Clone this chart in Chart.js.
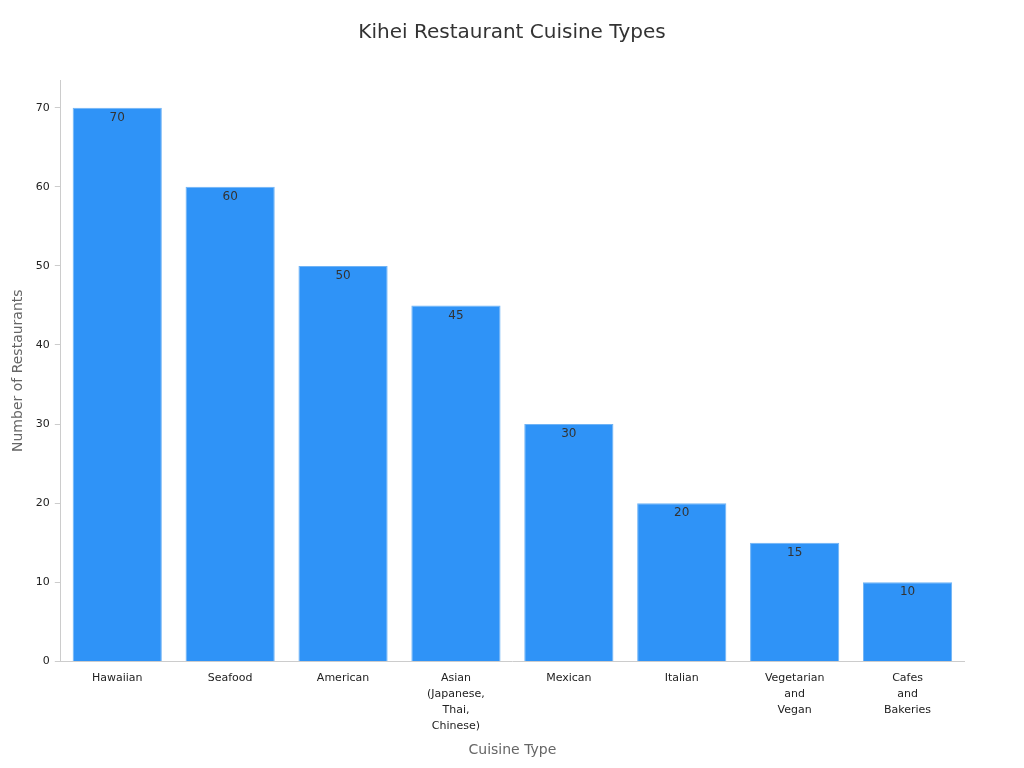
<!DOCTYPE html>
<html><head><meta charset="utf-8">
<script src="https://cdn.jsdelivr.net/npm/chart.js@4"></script>
<style>html,body{margin:0;background:#fff}#w{width:1024px;height:768px}</style>
</head><body><div id="w"><canvas id="c"></canvas></div>
<script>
const titleText='Kihei Restaurant Cuisine Types';
const categories=[["Hawaiian"],["Seafood"],["American"],["Asian","(Japanese,","Thai,","Chinese)"],["Mexican"],["Italian"],["Vegetarian","and","Vegan"],["Cafes","and","Bakeries"]];
const values=[70,60,50,45,30,20,15,10];
const labelPlugin={id:'vl',afterDatasetsDraw(ch){const c=ch.ctx;const m=ch.getDatasetMeta(0);c.save();c.font='12px "DejaVu Sans"';c.fillStyle='#333';c.textAlign='center';c.textBaseline='top';m.data.forEach((b,i)=>{c.fillText(values[i],b.x,b.y+4);});
c.font='20px "DejaVu Sans"';c.textBaseline='middle';c.fillText(titleText,ch.width/2,33);c.restore();}};
new Chart(document.getElementById('c'),{type:'bar',data:{labels:categories,datasets:[{data:values,backgroundColor:'#2f93f7',borderColor:'#6fb3f5',borderWidth:1,barPercentage:0.79,categoryPercentage:1}]},
options:{responsive:true,maintainAspectRatio:false,animation:false,layout:{padding:{left:6,right:60,top:80,bottom:5}},
plugins:{legend:{display:false},tooltip:{enabled:false},title:{display:false}},
scales:{x:{grid:{display:false},border:{color:'#ccc'},ticks:{padding:1,color:'#222',font:{family:'DejaVu Sans',size:11,lineHeight:1.45},maxRotation:0},title:{display:true,text:'Cuisine Type',color:'#666',font:{family:'DejaVu Sans',size:14},padding:{top:7}}},
y:{min:0,max:73.5,grid:{display:true,drawOnChartArea:false,drawTicks:true,tickLength:6,color:'#ccc'},border:{color:'#ccc'},ticks:{padding:5,stepSize:10,color:'#222',font:{family:'DejaVu Sans',size:11},callback:v=>v%10===0?v:null},title:{display:true,text:'Number of Restaurants',color:'#666',font:{family:'DejaVu Sans',size:14}}}}},plugins:[labelPlugin]});
</script></body></html>
